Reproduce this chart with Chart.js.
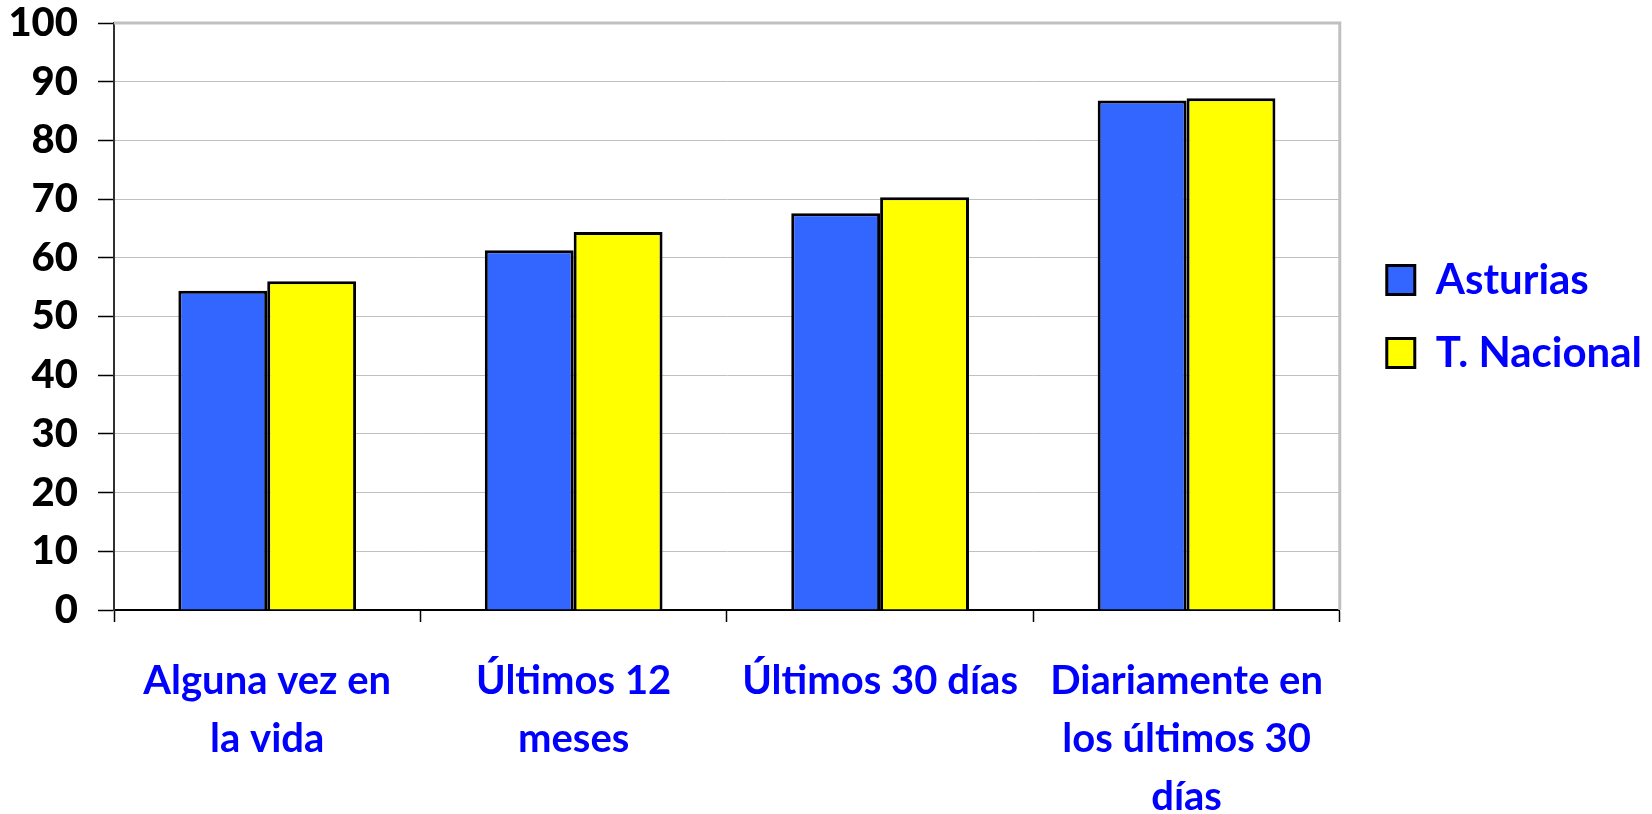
<!DOCTYPE html>
<html>
<head>
<meta charset="utf-8">
<script src="https://cdn.jsdelivr.net/npm/chart.js@4.4.1/dist/chart.umd.min.js"></script>
<style>
  html, body { margin: 0; padding: 0; background: #ffffff; }
  #wrap { width: 1652px; height: 814px; position: relative; }
</style>
</head>
<body>
<div id="wrap"><canvas id="c" width="1652" height="814"></canvas></div>
<script>
const categories = [
  ["Alguna vez en", "la vida"],
  ["Últimos 12", "meses"],
  ["Últimos 30 días"],
  ["Diariamente en", "los últimos 30", "días"]
];
const seriesNames = ["Asturias", "T. Nacional"];
const asturias = [54.4, 61.3, 67.6, 86.8];
const nacional = [56.0, 64.4, 70.3, 87.2];
const yTicks = [0, 10, 20, 30, 40, 50, 60, 70, 80, 90, 100];

const FONT = "Lato";

const frameLines = {
  id: 'frameLines',
  afterDatasetsDraw(chart) {
    const {ctx, chartArea: a} = chart;
    ctx.save();
    ctx.strokeStyle = '#c0c0c0';
    ctx.lineWidth = 3;
    ctx.beginPath();
    ctx.moveTo(a.left, a.top);
    ctx.lineTo(a.right, a.top);
    ctx.lineTo(a.right, a.bottom);
    ctx.stroke();
    ctx.restore();
  }
};

new Chart(document.getElementById('c'), {
  type: 'bar',
  data: {
    labels: categories,
    datasets: [
      { label: seriesNames[0], data: asturias, backgroundColor: '#3366ff', borderColor: '#000000', borderWidth: 3 },
      { label: seriesNames[1], data: nacional, backgroundColor: '#ffff00', borderColor: '#000000', borderWidth: 3 }
    ]
  },
  options: {
    responsive: false,
    animation: false,
    devicePixelRatio: 1,
    layout: { padding: { top: 0, left: -130, right: 0, bottom: 0 } },
    datasets: { bar: { categoryPercentage: 0.58, barPercentage: 1.0 } },
    plugins: {
      tooltip: { enabled: false },
      legend: {
        position: 'right',
        align: 'center',
        fullSize: false,
        labels: {
          boxWidth: 28,
          boxHeight: 29,
          padding: 31,
          color: '#0000ff',
          font: { family: FONT, size: 42, weight: 'bold' }
        }
      }
    },
    scales: {
      x: {
        grid: { drawOnChartArea: false, offset: true, tickLength: 12, tickColor: '#000000', tickWidth: 1.5 },
        border: { color: '#000000', width: 2 },
        ticks: {
          color: '#0000ff',
          maxRotation: 0, minRotation: 0, autoSkip: false,
          padding: 30,
          font: { family: FONT, size: 40, weight: 'bold', lineHeight: 1.45 }
        },
        afterFit: (s) => { s.height = 204; }
      },
      y: {
        min: 0, max: 100,
        afterBuildTicks: (s) => { s.ticks = yTicks.map(v => ({ value: v })); },
        grid: { color: '#c0c0c0', lineWidth: 1, tickLength: 16, tickColor: '#000000', tickWidth: 1.5 },
        border: { color: '#303030', width: 2 },
        ticks: {
          color: '#000000',
          padding: 20,
          font: { family: FONT, size: 40, weight: '900', lineHeight: 0.15 }
        },
        afterFit: (s) => { s.width = 244; }
      },
      yRight: {
        position: 'right',
        min: 0, max: 100,
        grid: { display: false, drawTicks: false },
        border: { display: false },
        ticks: { display: false },
        afterFit: (s) => { s.width = 16; }
      }
    }
  },
  plugins: [frameLines]
});
</script>
</body>
</html>
